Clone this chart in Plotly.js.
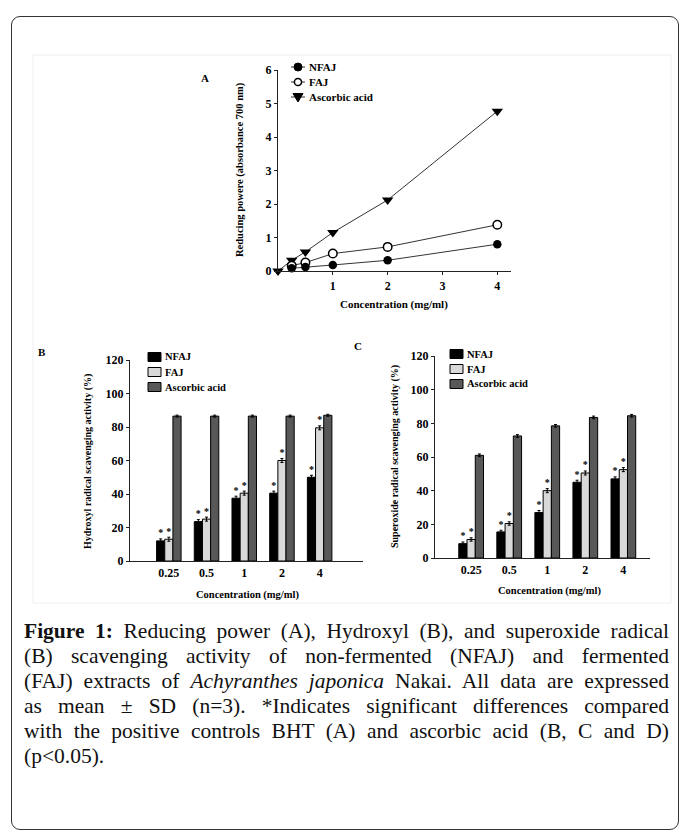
<!DOCTYPE html>
<html>
<head>
<meta charset="utf-8">
<script src="https://cdn.plot.ly/plotly-3.0.1.min.js"></script>
<style>
  html, body { margin: 0; padding: 0; background: #fff; }
  #wrap { position: relative; width: 683px; height: 836px; overflow: hidden; }
  #chart { position: absolute; left: 0; top: 0; width: 683px; height: 836px; }
  #frame { position: absolute; left: 11px; top: 16px; width: 668px; height: 814px;
           border: 1.5px solid #333; border-radius: 9px; box-sizing: border-box; pointer-events: none; }
  #caption { position: absolute; left: 24px; top: 619px; width: 645px;
             font-family: "Liberation Serif", "DejaVu Serif", serif; font-size: 21.5px; line-height: 25px; color: #111; }
  #caption .ln { text-align: justify; text-align-last: justify; white-space: nowrap; }
  #caption .last { text-align: left; text-align-last: left; }
</style>
</head>
<body>
<div id="wrap">
  <div id="chart"></div>
  <div id="frame"></div>
  <div id="caption">
    <div class="ln"><b>Figure 1:</b> Reducing power (A), Hydroxyl (B), and superoxide radical</div>
    <div class="ln">(B) scavenging activity of non-fermented (NFAJ) and fermented</div>
    <div class="ln">(FAJ) extracts of <i>Achyranthes japonica</i> Nakai. All data are expressed</div>
    <div class="ln">as mean ± SD (n=3). *Indicates significant differences compared</div>
    <div class="ln">with the positive controls BHT (A) and ascorbic acid (B, C and D)</div>
    <div class="ln last">(p&lt;0.05).</div>
  </div>
</div>
<script>
// ---------- Panel A data (reducing power) ----------
const concExtract = [0.25, 0.5, 1, 2, 4];
const concAscorbic = [0, 0.25, 0.5, 1, 2, 4];
const nfajA = [0.08, 0.12, 0.18, 0.32, 0.80];
const fajA = [0.16, 0.25, 0.52, 0.72, 1.38];
const ascorbicA = [0, 0.32, 0.57, 1.15, 2.12, 4.77];

// ---------- Panels B and C (bar charts) ----------
const categories = ['0.25', '0.5', '1', '2', '4'];
const nfajB = [12, 23.5, 37.5, 40.5, 50];
const fajB = [13, 25, 40.5, 60, 79.5];
const ascorbicB = [86.5, 86.5, 86.5, 86.5, 87];
const nfajBErr = [1.2, 1.2, 1.2, 1.2, 1.2];
const fajBErr = [1.2, 1.2, 1.2, 1.2, 1.2];
const ascorbicBErr = [0.6, 0.6, 0.6, 0.6, 0.6];

const nfajC = [8.5, 15.5, 27, 45, 47];
const fajC = [11, 20.5, 40, 50.5, 52.5];
const ascorbicC = [61, 72.5, 78.5, 83.5, 84.5];
const nfajCErr = [1.0, 1.0, 1.2, 1.2, 1.2];
const fajCErr = [1.0, 1.0, 1.2, 1.2, 1.2];
const ascorbicCErr = [0.8, 0.8, 0.8, 0.8, 0.8];

const seriesNames = ['NFAJ', 'FAJ', 'Ascorbic acid'];
const barColors = ['#000000', '#d9d9d9', '#585858'];

// ---------- helpers ----------
const W = 683, H = 836;
const px = p => p / W;
const py = p => 1 - p / H;
const serif = 'Liberation Serif, Times New Roman, serif';
const boldFont = (s) => ({family: serif, size: s, color: '#000', weight: 'bold'});
const catIdx = categories.map((c, i) => i);
const bargap = 0.35;
const barW = (1 - bargap) / 3;

const traces = [];

// Panel A lines
traces.push({x: concAscorbic, y: ascorbicA, xaxis: 'x', yaxis: 'y', mode: 'lines+markers', cliponaxis: false,
  line: {color: '#333', width: 1}, marker: {symbol: 'triangle-down', size: 10, color: '#000'}, name: seriesNames[2]});
traces.push({x: concExtract, y: fajA, xaxis: 'x', yaxis: 'y', mode: 'lines+markers', cliponaxis: false,
  line: {color: '#333', width: 1}, marker: {symbol: 'circle', size: 8.5, color: '#fff', line: {color: '#000', width: 1.5}}, name: seriesNames[1]});
traces.push({x: concExtract, y: nfajA, xaxis: 'x', yaxis: 'y', mode: 'lines+markers', cliponaxis: false,
  line: {color: '#333', width: 1}, marker: {symbol: 'circle', size: 8.5, color: '#000'}, name: seriesNames[0]});

function addBars(xa, ya, vals, errs) {
  vals.forEach((v, k) => {
    traces.push({type: 'bar', x: catIdx, y: v, xaxis: xa, yaxis: ya, name: seriesNames[k],
      marker: {color: barColors[k], line: {color: '#000', width: 1}},
      error_y: {type: 'data', array: errs[k], color: '#000', thickness: 1, width: 1.5}});
  });
  // significance asterisks above NFAJ and FAJ bars
  [0, 1].forEach(k => {
    traces.push({type: 'scatter', mode: 'text', xaxis: xa, yaxis: ya, cliponaxis: false,
      x: catIdx.map(i => i + (k - 1) * barW),
      y: vals[k].map((v, i) => v + errs[k][i] + 3.0),
      text: vals[k].map(() => '*'), textposition: 'middle center',
      textfont: boldFont(10), hoverinfo: 'skip'});
  });
}
addBars('x2', 'y2', [nfajB, fajB, ascorbicB], [nfajBErr, fajBErr, ascorbicBErr]);
addBars('x3', 'y3', [nfajC, fajC, ascorbicC], [nfajCErr, fajCErr, ascorbicCErr]);

const axisCommon = {showline: true, linecolor: '#222', linewidth: 1.2, showgrid: false, zeroline: false,
  ticks: 'outside', ticklen: 3, tickwidth: 1, tickcolor: '#222', tickfont: boldFont(12), fixedrange: true};

const layout = {
  width: W, height: H, margin: {l: 0, r: 0, t: 0, b: 0},
  paper_bgcolor: '#fff', plot_bgcolor: 'rgba(0,0,0,0)',
  showlegend: false, barmode: 'group', bargap: bargap, bargroupgap: 0,
  xaxis: Object.assign({}, axisCommon, {domain: [px(278), px(511)], anchor: 'y', range: [0, 4.25], tickvals: [1, 2, 3, 4]}),
  yaxis: Object.assign({}, axisCommon, {domain: [py(271), py(70)], anchor: 'x', range: [0, 6], dtick: 1}),
  xaxis2: Object.assign({}, axisCommon, {domain: [px(130), px(363)], anchor: 'y2', range: [-1.03, 5.15],
    tickvals: catIdx, ticktext: categories, ticks: ''}),
  yaxis2: Object.assign({}, axisCommon, {domain: [py(561), py(360)], anchor: 'x2', range: [0, 120], dtick: 20}),
  xaxis3: Object.assign({}, axisCommon, {domain: [px(435), px(650)], anchor: 'y3', range: [-0.95, 4.7],
    tickvals: catIdx, ticktext: categories, ticks: ''}),
  yaxis3: Object.assign({}, axisCommon, {domain: [py(558), py(356)], anchor: 'x3', range: [0, 120], dtick: 20}),
  shapes: [],
  annotations: []
};

const ann = (x, y, text, opts) => Object.assign({xref: 'paper', yref: 'paper', x: px(x), y: py(y), text: text,
  showarrow: false, font: boldFont(11), xanchor: 'center', yanchor: 'middle'}, opts || {});

// faint border of the figure image
layout.shapes.push({type: 'rect', xref: 'paper', yref: 'paper', x0: px(33), x1: px(671), y0: py(603), y1: py(55),
  line: {color: '#efefef', width: 1}});

// titles and panel letters
layout.annotations.push(ann(205, 78, 'A', {font: boldFont(11)}));
layout.annotations.push(ann(42, 352, 'B', {font: boldFont(11)}));
layout.annotations.push(ann(358, 346, 'C', {font: boldFont(11)}));
layout.annotations.push(ann(240, 170, 'Reducing powere (absorbance 700 nm)', {textangle: -90, font: boldFont(10.5)}));
layout.annotations.push(ann(394, 304, 'Concentration (mg/ml)', {font: boldFont(11)}));
layout.annotations.push(ann(88, 462, 'Hydroxyl radical scavenging activity (%)', {textangle: -90, font: boldFont(10)}));
layout.annotations.push(ann(247, 595, 'Concentration (mg/ml)', {font: boldFont(10.5)}));
layout.annotations.push(ann(395, 457, 'Superoxide radical scavenging activity (%)', {textangle: -90, font: boldFont(10)}));
layout.annotations.push(ann(549, 591, 'Concentration (mg/ml)', {font: boldFont(10.5)}));

// legend A (line + marker symbols)
const legA = [67, 82, 97];
legA.forEach((yy, k) => {
  layout.shapes.push({type: 'line', xref: 'paper', yref: 'paper', x0: px(291), x1: px(305), y0: py(yy), y1: py(yy),
    line: {color: '#333', width: 1}});
  layout.annotations.push(ann(307, yy, seriesNames[k], {xanchor: 'left'}));
});
layout.shapes.push({type: 'circle', xref: 'paper', yref: 'paper', xsizemode: 'pixel', ysizemode: 'pixel',
  xanchor: px(298), yanchor: py(legA[0]), x0: -4, x1: 4, y0: -4, y1: 4, fillcolor: '#000', line: {color: '#000', width: 1}});
layout.shapes.push({type: 'circle', xref: 'paper', yref: 'paper', xsizemode: 'pixel', ysizemode: 'pixel',
  xanchor: px(298), yanchor: py(legA[1]), x0: -3.6, x1: 3.6, y0: -3.6, y1: 3.6, fillcolor: '#fff', line: {color: '#000', width: 1.5}});
layout.shapes.push({type: 'path', xref: 'paper', yref: 'paper', xsizemode: 'pixel', ysizemode: 'pixel',
  xanchor: px(298), yanchor: py(legA[2]), path: 'M-5,3.5 L5,3.5 L0,-5 Z', fillcolor: '#000', line: {color: '#000', width: 1}});

// legends B and C (boxes)
function boxLegend(x0, ys) {
  ys.forEach((yy, k) => {
    layout.shapes.push({type: 'rect', xref: 'paper', yref: 'paper', x0: px(x0), x1: px(x0 + 13), y0: py(yy + 4.5), y1: py(yy - 4.5),
      fillcolor: barColors[k], line: {color: '#000', width: 1}});
    layout.annotations.push(ann(x0 + 15, yy, seriesNames[k], {xanchor: 'left', font: boldFont(10.5)}));
  });
}
boxLegend(148, [357, 372, 387]);
boxLegend(450, [354, 369, 384]);

Plotly.newPlot('chart', traces, layout, {staticPlot: true, displayModeBar: false});
</script>
</body>
</html>
